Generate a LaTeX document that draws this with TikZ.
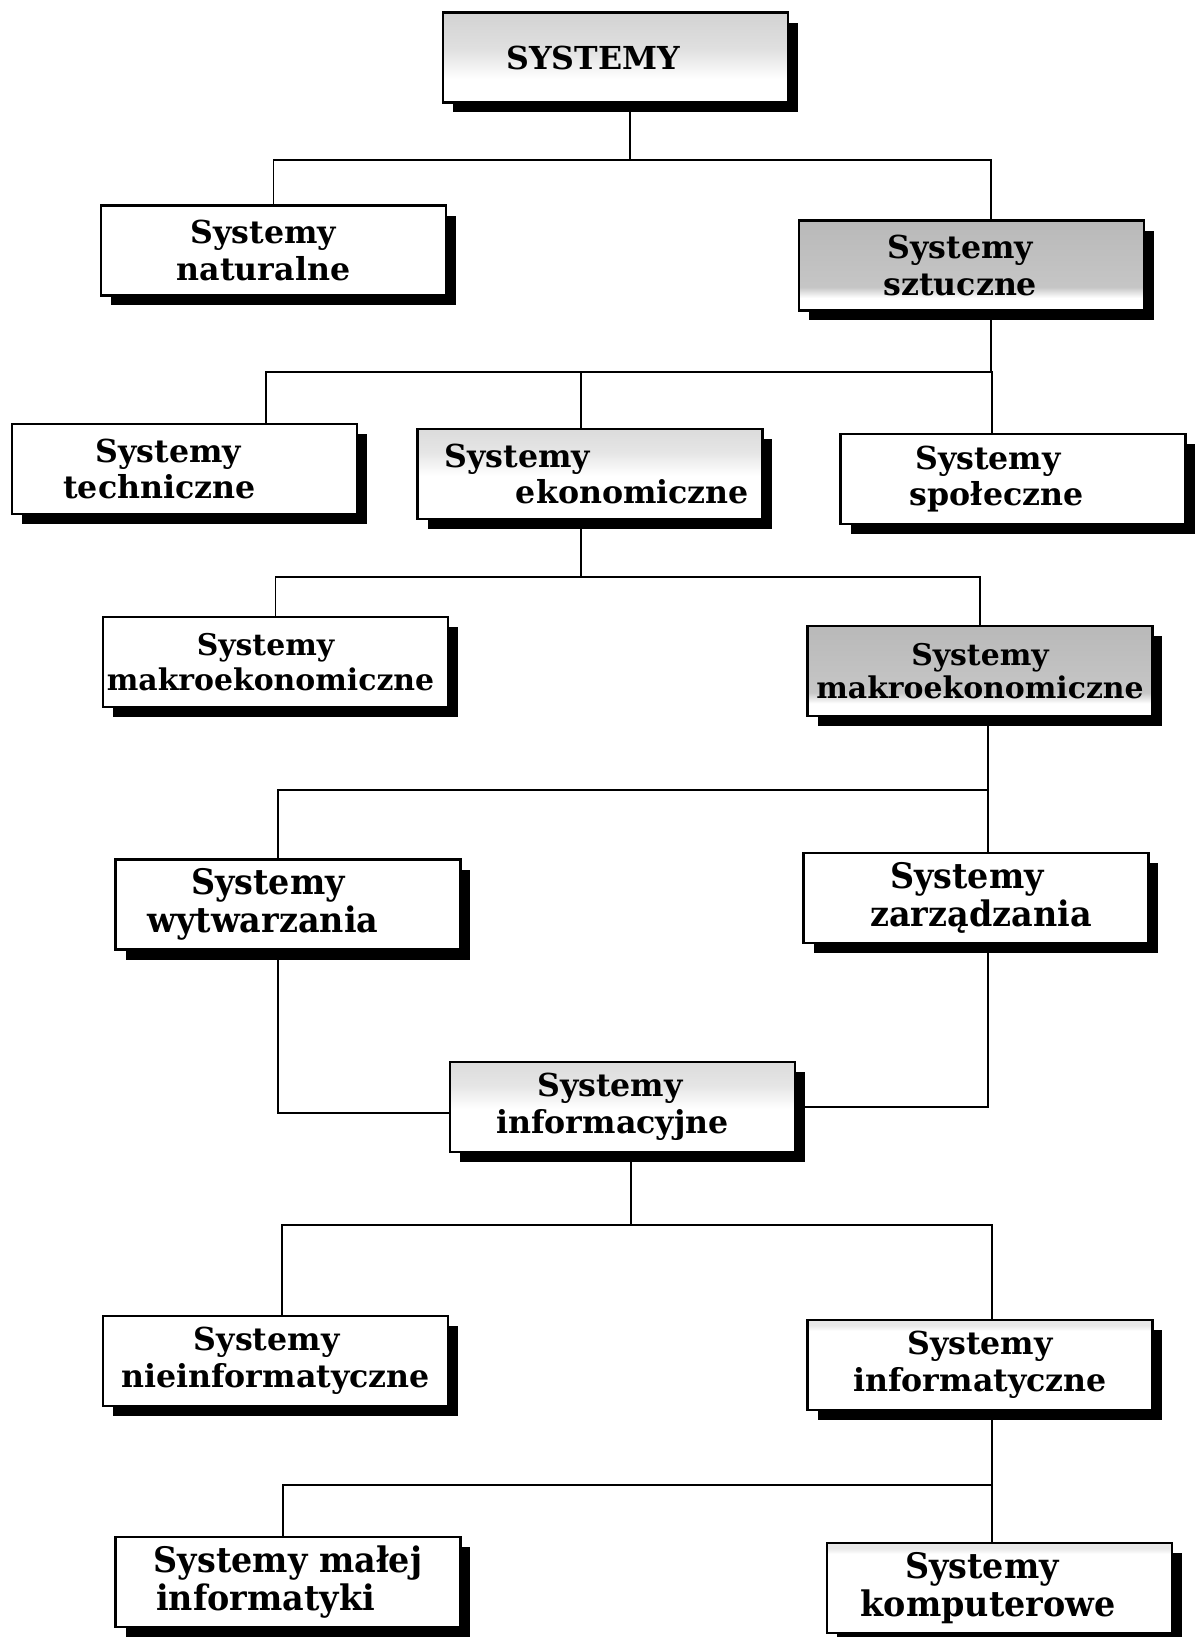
\documentclass[tikz,border=0pt]{standalone}
\usepackage{fontspec}
\newfontfamily\boxfont{DejaVu Serif}
\newfontfamily\narrowfont[FakeStretch=0.95]{DejaVu Serif}
\usetikzlibrary{shadows}
\pgfdeclareverticalshading{darkfade}{100bp}{color(0bp)=(white); color(32bp)=(white); color(38bp)=(gray!45); color(75bp)=(gray!55); color(100bp)=(gray!55)}
\pgfdeclareverticalshading{softfade}{100bp}{color(0bp)=(white); color(38bp)=(white); color(55bp)=(gray!25); color(75bp)=(gray!35); color(100bp)=(gray!35)}
\pgfdeclareverticalshading{palefade}{100bp}{color(0bp)=(white); color(49bp)=(white); color(62bp)=(gray!20); color(75bp)=(gray!28); color(100bp)=(gray!28)}
\pgfdeclareverticalshading{stripfade}{100bp}{color(0bp)=(white); color(69bp)=(white); color(72bp)=(gray!18); color(75bp)=(gray!18); color(100bp)=(gray!18)}
\tikzstyle{sysbox} = [rectangle, draw=black, line width=1.4pt, fill=white, minimum width=6.9cm, minimum height=1.8cm, inner sep=0pt, align=center, font=\fontsize{18}{21}\selectfont\boxfont\bfseries, drop shadow={shadow xshift=0.2cm, shadow yshift=-0.2cm, fill=black, opacity=1}]
\tikzstyle{narrowbox} = [sysbox, font=\fontsize{20}{22}\selectfont\narrowfont\bfseries]
\tikzstyle{darkbox} = [sysbox, shade, shading=darkfade]
\tikzstyle{conn} = [line width=1.1pt]

\begin{document}
\begin{tikzpicture}[x=0.02cm, y=-0.02cm]
\useasboundingbox (0,0) rectangle (1202,1637);

\node (sys) [sysbox, shade, shading=softfade] at (615.5,57.5) {\hspace*{-0.9cm}SYSTEMY};

\node (nat) [sysbox] at (273.5,250.5) {\hspace*{-0.4cm}Systemy\\\hspace*{-0.4cm}naturalne};
\node (szt) [darkbox] at (971.5,265.5) {\hspace*{-0.45cm}Systemy\\\hspace*{-0.45cm}sztuczne};

\node (tech) [sysbox] at (184.5,469) {\hspace*{-0.65cm}Systemy\\\hspace*{-1cm}techniczne};
\node (eko) [sysbox, shade, shading=palefade] at (590,474) {\hspace*{-2.9cm}Systemy\\\hspace*{1.7cm}ekonomiczne};
\node (spol) [sysbox] at (1013,479) {\hspace*{-1cm}Systemy\\\hspace*{-0.65cm}społeczne};

\node (makL) [sysbox, font=\fontsize{17}{20}\selectfont\boxfont\bfseries] at (275.5,662) {\hspace*{-0.4cm}Systemy\\\hspace*{-0.2cm}makroekonomiczne};
\node (makR) [darkbox, font=\fontsize{17}{19}\selectfont\boxfont\bfseries] at (980,671) {Systemy\\makroekonomiczne};

\node (wyt) [narrowbox] at (288,904.5) {\hspace*{-0.8cm}Systemy\\\hspace*{-1cm}wytwarzania};
\node (zar) [narrowbox] at (976,898) {\hspace*{-0.36cm}Systemy\\\hspace*{0.2cm}zarządzania};

\node (inf) [sysbox, shade, shading=palefade] at (622.5,1107) {\hspace*{-0.5cm}Systemy\\\hspace*{-0.4cm}informacyjne};

\node (nieinf) [sysbox] at (275.5,1361) {\hspace*{-0.35cm}Systemy\\nieinformatyczne};
\node (infor) [sysbox, shade, shading=stripfade] at (980,1365) {Systemy\\informatyczne};

\node (malej) [narrowbox] at (288,1582) {Systemy małej\\\hspace*{-0.9cm}informatyki};
\node (komp) [narrowbox, shade, shading=stripfade] at (999.5,1588) {\hspace*{-0.7cm}Systemy\\\hspace*{-0.45cm}komputerowe};

% branch points
\coordinate (b1) at (630,160);
\coordinate (b2) at (991,372);
\coordinate (b3) at (581,577);
\coordinate (b4) at (988,790);
\coordinate (b5) at (631,1225);
\coordinate (b6) at (992,1485);

\draw [conn] (sys.south -| b1) -- (b1);
\draw [conn] (nat.north) |- (b1);
\draw [conn] ([xshift=0.39cm]szt.north) |- (b1);

\draw [conn] ([xshift=0.39cm]szt.south) -- (b2);
\draw [conn] ([xshift=1.63cm]tech.north) |- (b2);
\draw [conn] ([xshift=-0.18cm]eko.north) |- (b2);
\draw [conn] ([xshift=-0.42cm]spol.north) |- (b2);

\draw [conn] ([xshift=-0.18cm]eko.south) -- (b3);
\draw [conn] (makL.north) |- (b3);
\draw [conn] (makR.north) |- (b3);

\draw [conn] ([xshift=0.16cm]makR.south) -- (b4);
\draw [conn] ([xshift=-0.2cm]wyt.north) |- (b4);
\draw [conn] ([xshift=0.24cm]zar.north) |- (b4);

\draw [conn] ([xshift=-0.2cm]wyt.south) |- ([yshift=-0.12cm]inf.west);
\draw [conn] ([xshift=0.24cm]zar.south) |- (inf.east);

\draw [conn] ([xshift=0.17cm]inf.south) -- (b5);
\draw [conn] ([xshift=0.13cm]nieinf.north) |- (b5);
\draw [conn] ([xshift=0.24cm]infor.north) |- (b5);

\draw [conn] ([xshift=0.24cm]infor.south) -- (b6);
\draw [conn] ([xshift=-0.1cm]malej.north) |- (b6);
\draw [conn] ([xshift=-0.15cm]komp.north) |- (b6);

\end{tikzpicture}
\end{document}
